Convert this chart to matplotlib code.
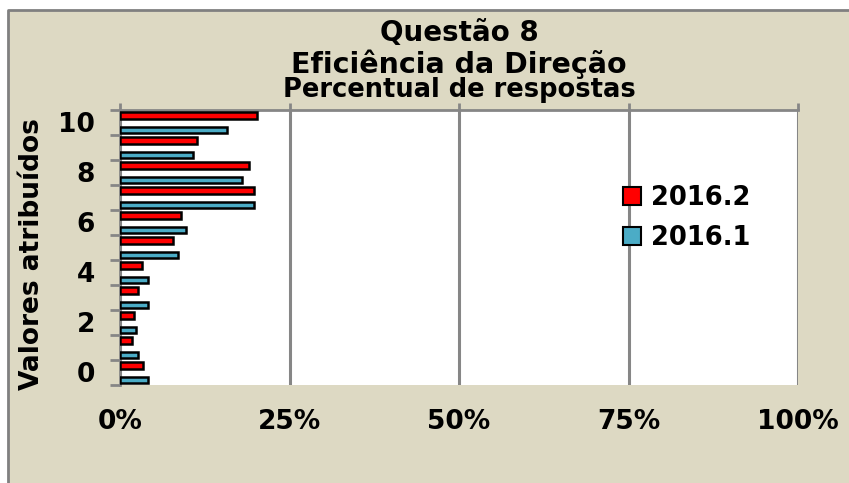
import matplotlib
matplotlib.use("Agg")
import matplotlib.pyplot as plt
from matplotlib.patches import Rectangle
from matplotlib.lines import Line2D
from matplotlib.ticker import PercentFormatter

# dados (percentual de respostas por valor atribuído)
valores = [0, 1, 2, 3, 4, 5, 6, 7, 8, 9, 10]
r2016_2 = [3.4, 1.7, 2.0, 2.6, 3.3, 7.8, 9.0, 19.7, 19.0, 11.3, 20.2]
r2016_1 = [4.2, 2.6, 2.4, 4.1, 4.2, 8.5, 9.8, 19.7, 18.0, 10.7, 15.8]
xticks = [0, 25, 50, 75, 100]
yticks = [0, 2, 4, 6, 8, 10]

bege = "#ddd9c3"
cinza = "#868686"

plt.rcParams["font.family"] = "DejaVu Sans"
plt.rcParams["font.weight"] = "bold"
plt.rcParams["axes.labelweight"] = "bold"

# figura inteira bege; margem branca em cima e à esquerda
fig = plt.figure(figsize=(8.49, 4.83), dpi=100, facecolor=bege)
x0, y1 = 8 / 849, 1 - 10 / 483
fig.patches.append(Rectangle((0, 0), x0, 1, transform=fig.transFigure,
                             facecolor="white", edgecolor="none", zorder=-2))
fig.patches.append(Rectangle((0, y1), 1, 1 - y1, transform=fig.transFigure,
                             facecolor="white", edgecolor="none", zorder=-2))
fig.lines.append(Line2D([x0, x0, 1], [0, y1, y1], transform=fig.transFigure,
                        color="#808080", linewidth=2, zorder=-1))

ax = fig.add_axes([120 / 849, 1 - 385 / 483, 678 / 849, 275 / 483])
ax.set_facecolor("white")

h = 0.26
ax.barh([v + 0.29 for v in valores], r2016_2, height=h, color="#ff0000",
        edgecolor="black", linewidth=1.8, label="2016.2", zorder=3)
ax.barh([v - 0.29 for v in valores], r2016_1, height=h, color="#4bacc6",
        edgecolor="black", linewidth=1.8, label="2016.1", zorder=3)

ax.set_xlim(0, 100)
ax.set_ylim(-0.5, 10.5)
ax.set_xticks(xticks)
ax.xaxis.set_major_formatter(PercentFormatter(decimals=0))
ax.tick_params(axis="x", bottom=False, top=True, labelbottom=True,
               labeltop=False, length=5, width=2, color=cinza,
               labelsize=19, pad=12)
ax.set_yticks([v - 0.5 for v in valores] + [10.5])
ax.set_yticklabels([])
ax.set_yticks(yticks, minor=True)
ax.set_yticklabels([str(v) for v in yticks], minor=True)
ax.tick_params(axis="y", which="major", length=7, width=2, color=cinza)
ax.tick_params(axis="y", which="minor", length=0, labelsize=19, pad=18)

ax.grid(axis="x", color=cinza, linewidth=2.2, zorder=1)
for s in ["right", "bottom"]:
    ax.spines[s].set_visible(False)
for s in ["left", "top"]:
    ax.spines[s].set_color(cinza)
    ax.spines[s].set_linewidth(2)

ax.set_ylabel("Valores atribuídos", fontsize=19, fontweight="bold")
ax.yaxis.set_label_coords(-75 / 678, 0.476)

leg = ax.legend(loc="center left", bbox_to_anchor=(0.742, 0.607), frameon=False,
                fontsize=18.5, handlelength=0.7, handleheight=0.7,
                handletextpad=0.4, labelspacing=0.55, borderaxespad=0, borderpad=0)
for p in leg.get_patches():
    p.set_linewidth(1.5)

fig.text(459 / 849, 1 - 33 / 483, "Questão 8", ha="center", va="center", fontsize=20)
fig.text(459 / 849, 1 - 64 / 483, "Eficiência da Direção", ha="center", va="center", fontsize=20.5)
fig.text(459 / 849, 1 - 90 / 483, "Percentual de respostas", ha="center", va="center", fontsize=18.5)

fig.savefig("out.png", dpi=100, facecolor=fig.get_facecolor())
